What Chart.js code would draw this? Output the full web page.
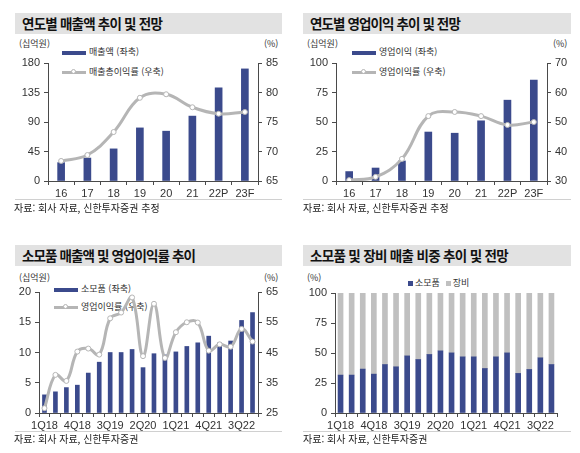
<!DOCTYPE html>
<html lang="ko">
<head>
<meta charset="utf-8">
<title>소모품 매출 추이</title>
<script src="https://cdn.jsdelivr.net/npm/chart.js@4.4.0/dist/chart.umd.min.js"></script>
<style>
  body { margin: 0; width: 580px; height: 453px; position: relative; overflow: hidden; background: #fff;
         font-family: 'Noto Sans CJK KR', sans-serif; color: #222; }
  .title { position: absolute; height: 21px; line-height: 21px; background: #e2e2e2; padding-left: 7px;
           box-sizing: border-box; font-size: 13.5px; font-weight: bold; color: #111; white-space: nowrap; }
  .unit { position: absolute; font-size: 9px; line-height: 12px; color: #333; }
  .src { position: absolute; font-size: 10px; line-height: 14px; color: #222; }
  .rule { position: absolute; height: 1px; background: #d0d0d0; }
  canvas { position: absolute; }
  .lg { position: absolute; font-size: 9px; line-height: 12px; color: #333; white-space: nowrap; }
  .mk-bar { display: inline-block; width: 24px; height: 4px; background: #3b4a8c; vertical-align: middle; margin-right: 3px; }
  .mk-line { display: inline-block; position: relative; width: 24px; height: 3px; background: #b5b5b5; vertical-align: middle; margin-right: 3px; }
  .mk-line::after { content: ''; position: absolute; left: 9px; top: -2px; width: 5px; height: 5px; border-radius: 50%;
                    background: #fff; border: 1px solid #b5b5b5; box-sizing: border-box; }
  .sq { display: inline-block; width: 5px; height: 5px; vertical-align: middle; margin: 0 2px 0 6px; }
</style>
</head>
<body>

<div class="title" style="left:15px;top:13px;width:267px"><span data-w="140">연도별 매출액 추이 및 전망</span></div>
<div class="title" style="left:303px;top:13px;width:268px"><span data-w="150">연도별 영업이익 추이 및 전망</span></div>
<div class="title" style="left:15px;top:245px;width:267px"><span data-w="173">소모품 매출액 및 영업이익률 추이</span></div>
<div class="title" style="left:303px;top:245px;width:268px"><span data-w="198">소모품 및 장비 매출 비중 추이 및 전망</span></div>

<div class="unit" style="left:19px;top:38px">(십억원)</div>
<div class="unit" style="left:264px;top:38px">(%)</div>
<div class="unit" style="left:307px;top:38px">(십억원)</div>
<div class="unit" style="left:553px;top:38px">(%)</div>
<div class="unit" style="left:19px;top:272px">(십억원)</div>
<div class="unit" style="left:264px;top:272px">(%)</div>
<div class="unit" style="left:307px;top:272px">(%)</div>

<div class="lg" id="lgSales1" style="left:62px;top:46px"></div>
<div class="lg" id="lgSales2" style="left:62px;top:66px"></div>
<div class="lg" id="lgOp1" style="left:352px;top:46px"></div>
<div class="lg" id="lgOp2" style="left:352px;top:66px"></div>
<div class="lg" id="lgCons1" style="left:54px;top:283px"></div>
<div class="lg" id="lgCons2" style="left:54px;top:301px"></div>
<div class="lg" id="lgShare" style="left:402px;top:277px"></div>

<canvas id="salesChart" width="290" height="165" style="left:0;top:50px"></canvas>
<canvas id="opChart" width="290" height="165" style="left:290px;top:50px"></canvas>
<canvas id="consChart" width="290" height="155" style="left:0;top:280px"></canvas>
<canvas id="shareChart" width="290" height="155" style="left:290px;top:280px"></canvas>

<div class="rule" style="left:15px;top:199px;width:267px"></div>
<div class="rule" style="left:303px;top:199px;width:268px"></div>
<div class="rule" style="left:15px;top:431px;width:267px"></div>
<div class="rule" style="left:303px;top:431px;width:268px"></div>

<div class="src" style="left:14px;top:201px">자료: 회사 자료, 신한투자증권 추정</div>
<div class="src" style="left:303px;top:201px">자료: 회사 자료, 신한투자증권 추정</div>
<div class="src" style="left:14px;top:432px">자료: 회사 자료, 신한투자증권</div>
<div class="src" style="left:303px;top:432px">자료: 회사 자료, 신한투자증권</div>

<script>
/* ── Daten ─────────────────────────────────────────────── */
const yearLabels = ['16', '17', '18', '19', '20', '21', '22P', '23F'];
const salesValues = [28, 35, 49, 81, 76, 99, 142, 171];
const grossMarginValues = [68.4, 69.4, 73.3, 79.1, 79.7, 77.5, 76.4, 76.7];
const opProfitValues = [8, 11, 17, 41.5, 40.5, 51, 68.5, 85.5];
const opMarginValues = [30.3, 31.4, 37.5, 52, 53.4, 52, 49, 50];

const quarterLabels = ['1Q18', '2Q18', '3Q18', '4Q18', '1Q19', '2Q19', '3Q19', '4Q19', '1Q20', '2Q20',
                       '3Q20', '4Q20', '1Q21', '2Q21', '3Q21', '4Q21', '1Q22', '2Q22', '3Q22', '4Q22'];
const consumableSales = [3.0, 3.5, 4.2, 4.6, 6.6, 8.4, 10.0, 10.0, 10.5, 7.5,
                         9.8, 9.6, 10.1, 11.0, 11.6, 12.7, 11.6, 11.9, 15.3, 16.6];
const consumableMargin = [26.6, 37.6, 35.6, 45.3, 46.3, 44.3, 56.3, 58.2, 63.2, 43.8,
                          61.1, 43.2, 51.7, 55.0, 54.9, 45.6, 47.7, 46.9, 52.8, 48.6];
const consumableShare = [31.6, 31.6, 36.6, 32.4, 40.4, 38.5, 47.6, 44.6, 48.8, 51.8,
                         50.1, 46.8, 46.8, 37.1, 46.8, 50.1, 33.0, 36.3, 46.0, 40.4];
const equipmentShare = [68.4, 68.4, 63.4, 67.6, 59.6, 61.5, 52.4, 55.4, 51.2, 48.2,
                        49.9, 53.2, 53.2, 62.9, 53.2, 49.9, 67.0, 63.7, 54.0, 59.6];

const salesLegend = ['매출액 (좌축)', '매출총이익률 (우축)'];
const opLegend = ['영업이익 (좌축)', '영업이익률 (우축)'];
const consLegend = ['소모품 (좌축)', '영업이익률 (우축)'];
const shareLegend = ['소모품', '장비'];

/* ── Stil ──────────────────────────────────────────────── */
const NAVY = '#3b4a8c';
const GRAY_LINE = '#b5b5b5';
const GRAY_BAR = '#c0c0c0';
const AXIS = '#4a4a4a';
const tickFont = { family: "'Liberation Sans', Arial, sans-serif", size: 11 };

function yAxis(position, min, max, stepSize, width) {
    return {
        position, min, max,
        ticks: { stepSize, color: '#333', font: tickFont, padding: 4 },
        grid: { drawOnChartArea: false, tickLength: 4, color: AXIS },
        border: { display: true, color: AXIS },
        afterFit: (scale) => { scale.width = width; },
    };
}

function xAxis(height, every, stacked) {
    return {
        stacked,
        ticks: {
            color: '#333', font: tickFont, padding: 2, autoSkip: false, maxRotation: 0,
            callback(value, index) { return index % every === 0 ? this.getLabelForValue(value) : ''; },
        },
        grid: { drawOnChartArea: false, tickLength: 4, color: AXIS, offset: true },
        border: { color: AXIS },
        afterFit: (scale) => { scale.height = height; },
    };
}

function lineSet(label, data) {
    return {
        type: 'line', label, data, yAxisID: 'y1', order: 0,
        borderColor: GRAY_LINE, borderWidth: 3, tension: 0.4,
        pointRadius: 2.5, pointBackgroundColor: '#fff', pointBorderColor: GRAY_LINE, pointBorderWidth: 1,
    };
}

function barSet(label, data, thickness) {
    return { type: 'bar', label, data, yAxisID: 'y', order: 1, backgroundColor: NAVY, barThickness: thickness };
}

/**
 * Balken + Linie mit zwei Achsen.
 */
function drawComboChart(canvasId, labels, bars, line, legend, axes, box) {
    const canvas = document.getElementById(canvasId);
    if (!canvas) return;

    new Chart(canvas.getContext('2d'), {
        data: {
            labels,
            datasets: [lineSet(legend[1], line), barSet(legend[0], bars, box.bar)],
        },
        options: {
            responsive: false,
            animation: false,
            layout: { padding: { top: box.top, left: 0, right: 0, bottom: 0 } },
            plugins: { legend: { display: false }, tooltip: { enabled: false } },
            scales: {
                x: xAxis(box.xh, box.every, false),
                y: yAxis('left', ...axes.left, box.lw),
                y1: yAxis('right', ...axes.right, box.rw),
            },
        },
    });
}

function drawShareChart(canvasId) {
    const canvas = document.getElementById(canvasId);
    if (!canvas) return;

    new Chart(canvas.getContext('2d'), {
        type: 'bar',
        data: {
            labels: quarterLabels,
            datasets: [
                { label: shareLegend[0], data: consumableShare, backgroundColor: NAVY, barThickness: 5 },
                { label: shareLegend[1], data: equipmentShare, backgroundColor: GRAY_BAR, barThickness: 5 },
            ],
        },
        options: {
            responsive: false,
            animation: false,
            layout: { padding: { top: 13, left: 0, right: 23, bottom: 0 } },
            plugins: { legend: { display: false }, tooltip: { enabled: false } },
            scales: {
                x: xAxis(22, 3, true),
                y: { ...yAxis('left', 0, 100, 25, 45), stacked: true },
            },
        },
    });
}

function fillLegend(id, text, kind) {
    const el = document.getElementById(id);
    const mark = document.createElement('span');
    mark.className = kind;
    el.appendChild(mark);
    el.appendChild(document.createTextNode(text));
}

// Titelbreite an die Vorlage anpassen (Laufweite)
function fitTitles() {
    document.querySelectorAll('.title span').forEach((span) => {
        const target = Number(span.dataset.w);
        const actual = span.getBoundingClientRect().width;
        const chars = span.textContent.length;
        span.style.letterSpacing = ((target - actual) / chars).toFixed(2) + 'px';
    });
}

/* ── Start ─────────────────────────────────────────────── */
drawComboChart('salesChart', yearLabels, salesValues, grossMarginValues, salesLegend,
    { left: [0, 180, 45], right: [65, 85, 5] },
    { top: 13, xh: 34, lw: 48, rw: 32, bar: 7, every: 1 });
drawComboChart('opChart', yearLabels, opProfitValues, opMarginValues, opLegend,
    { left: [0, 100, 25], right: [30, 70, 10] },
    { top: 13, xh: 34, lw: 46, rw: 33, bar: 7, every: 1 });
drawComboChart('consChart', quarterLabels, consumableSales, consumableMargin, consLegend,
    { left: [0, 20, 5], right: [25, 65, 10] },
    { top: 12, xh: 22, lw: 39, rw: 32, bar: 4, every: 3 });
drawShareChart('shareChart');

fillLegend('lgSales1', salesLegend[0], 'mk-bar');
fillLegend('lgSales2', salesLegend[1], 'mk-line');
fillLegend('lgOp1', opLegend[0], 'mk-bar');
fillLegend('lgOp2', opLegend[1], 'mk-line');
fillLegend('lgCons1', consLegend[0], 'mk-bar');
fillLegend('lgCons2', consLegend[1], 'mk-line');

const shareEl = document.getElementById('lgShare');
shareLegend.forEach((name, i) => {
    const sq = document.createElement('span');
    sq.className = 'sq';
    sq.style.background = i === 0 ? NAVY : GRAY_BAR;
    shareEl.appendChild(sq);
    shareEl.appendChild(document.createTextNode(name));
});

fitTitles();
</script>
</body>
</html>
